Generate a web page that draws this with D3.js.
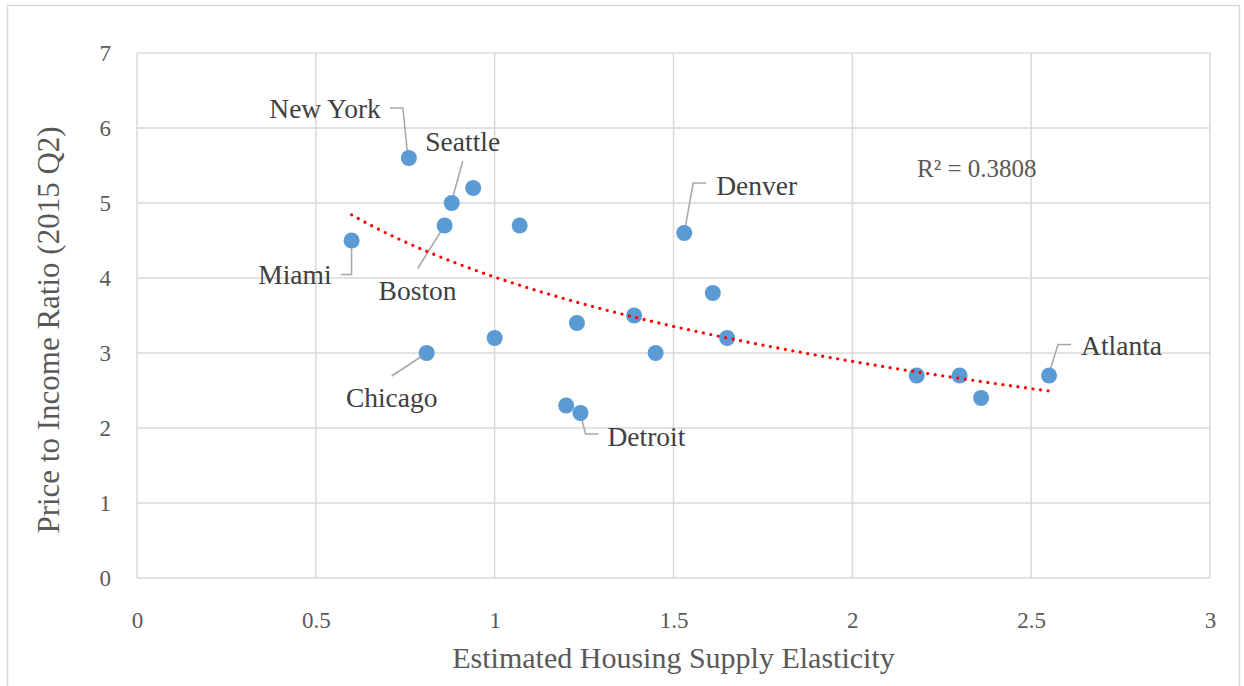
<!DOCTYPE html>
<html>
<head>
<meta charset="utf-8">
<script src="https://cdn.jsdelivr.net/npm/d3@7"></script>
<style>
  body { margin: 0; background: #fff; }
  text { font-family: "Liberation Serif", serif; }
</style>
</head>
<body>
<script>
// city data
var cities = ["Miami", "New York", "Chicago", "Boston", "Seattle", "", "", "", "", "Detroit",
  "", "", "", "Denver", "", "", "", "", "", "Atlanta"];
var elasticity = [0.6, 0.76, 0.81, 0.86, 0.88, 0.94, 1.0, 1.07, 1.2, 1.24,
  1.23, 1.39, 1.45, 1.53, 1.61, 1.65, 2.18, 2.30, 2.36, 2.55];
var priceIncome = [4.5, 5.6, 3.0, 4.7, 5.0, 5.2, 3.2, 4.7, 2.3, 2.2,
  3.4, 3.5, 3.0, 4.6, 3.8, 3.2, 2.7, 2.7, 2.4, 2.7];
var xTicks = [0, 0.5, 1, 1.5, 2, 2.5, 3];
var yTicks = [0, 1, 2, 3, 4, 5, 6, 7];
var rSquaredLabel = "R² = 0.3808";

// label placement (pixel offsets from the dot)
var labelLayout = {
  "New York": {dx: -28, dy: -50, anchor: "end", leader: [[-1, -2], [-6, -50], [-19, -50]]},
  "Seattle": {dx: 11, dy: -62, anchor: "middle", leader: [[0, -2], [11, -42]]},
  "Boston": {dx: -27, dy: 65, anchor: "middle", leader: [[0, 0], [-27, 43]]},
  "Miami": {dx: -20, dy: 34, anchor: "end", leader: [[0, 2], [0, 34], [-11, 34]]},
  "Chicago": {dx: -35, dy: 44, anchor: "middle", leader: [[0, 0], [-35, 23]]},
  "Detroit": {dx: 27, dy: 23, anchor: "start", leader: [[0, 1], [5, 21], [18, 21]]},
  "Denver": {dx: 32, dy: -48, anchor: "start", leader: [[0, 0], [9, -50], [22, -50]]},
  "Atlanta": {dx: 32, dy: -30, anchor: "start", leader: [[0, -2], [9, -31], [22, -31]]}
};

var W = 1244, H = 686;
var margin = {top: 53, right: 34, bottom: 108, left: 137};
var width = W - margin.left - margin.right,
  height = H - margin.top - margin.bottom;

var svg = d3.select("body").append("svg")
  .attr("width", W)
  .attr("height", H);

svg.append("rect")
  .attr("x", 7.5).attr("y", 5.5)
  .attr("width", 1232).attr("height", 700)
  .attr("fill", "#fff")
  .attr("stroke", "#d9d9d9")
  .attr("stroke-width", 1.5);

var g = svg.append("g")
  .attr("transform", "translate(" + margin.left + "," + margin.top + ")");

var x = d3.scaleLinear().domain([0, 3]).range([0, width]);
var y = d3.scaleLinear().domain([0, 7]).range([height, 0]);

// gridlines
g.selectAll(".vgrid")
  .data(xTicks)
  .enter().append("line")
  .attr("x1", function(d) { return x(d); })
  .attr("x2", function(d) { return x(d); })
  .attr("y1", 0).attr("y2", height)
  .attr("stroke", "#d9d9d9").attr("stroke-width", 1.5);

g.selectAll(".hgrid")
  .data(yTicks)
  .enter().append("line")
  .attr("y1", function(d) { return y(d); })
  .attr("y2", function(d) { return y(d); })
  .attr("x1", 0).attr("x2", width)
  .attr("stroke", "#d9d9d9").attr("stroke-width", 1.5);

// axes
var xAxis = g.append("g")
  .attr("transform", "translate(0," + height + ")")
  .call(d3.axisBottom(x).tickValues(xTicks).tickSize(0).tickPadding(34).tickFormat(d3.format("")));
var yAxis = g.append("g")
  .call(d3.axisLeft(y).tickValues(yTicks).tickSize(0).tickPadding(26).tickFormat(d3.format("")));

[xAxis, yAxis].forEach(function(a) {
  a.select(".domain").remove();
  a.selectAll("text")
    .attr("fill", "#595959")
    .style("font-size", "23px")
    .style("font-family", "'Liberation Serif', serif");
});

// axis titles
svg.append("text")
  .attr("x", margin.left + width / 2)
  .attr("y", 668)
  .attr("text-anchor", "middle")
  .attr("fill", "#595959")
  .style("font-size", "30px")
  .text("Estimated Housing Supply Elasticity");

svg.append("text")
  .attr("transform", "translate(59,330) rotate(-90)")
  .attr("text-anchor", "middle")
  .attr("fill", "#595959")
  .style("font-size", "31px")
  .text("Price to Income Ratio (2015 Q2)");

var data = elasticity.map(function(v, i) {
  return {name: cities[i], x: v, y: priceIncome[i]};
});

// logarithmic trendline, least squares on ln(x)
var lx = data.map(function(d) { return Math.log(d.x); });
var mx = d3.mean(lx), my = d3.mean(priceIncome);
var sxy = d3.sum(lx, function(v, i) { return (v - mx) * (priceIncome[i] - my); });
var sxx = d3.sum(lx, function(v) { return (v - mx) * (v - mx); });
var b = sxy / sxx, a = my - b * mx;
var ext = d3.extent(elasticity);
var trendX = d3.range(ext[0], ext[1] + 0.001, (ext[1] - ext[0]) / 100);

var line = d3.line()
  .x(function(d) { return x(d); })
  .y(function(d) { return y(a + b * Math.log(d)); });

// leader lines
var labelled = data.filter(function(d) { return labelLayout[d.name]; });

g.selectAll(".leader")
  .data(labelled)
  .enter().append("polyline")
  .attr("points", function(d) {
    var px = x(d.x), py = y(d.y);
    return labelLayout[d.name].leader.map(function(p) { return (px + p[0]) + "," + (py + p[1]); }).join(" ");
  })
  .attr("fill", "none")
  .attr("stroke", "#a6a6a6")
  .attr("stroke-width", 1.5);

// dots
g.selectAll(".dot")
  .data(data)
  .enter().append("circle")
  .attr("cx", function(d) { return x(d.x); })
  .attr("cy", function(d) { return y(d.y); })
  .attr("r", 8)
  .attr("fill", "#5b9bd5");

g.append("path")
  .datum(trendX)
  .attr("d", line)
  .attr("fill", "none")
  .attr("stroke", "#ff0000")
  .attr("stroke-width", 3.3)
  .attr("stroke-linecap", "round")
  .attr("stroke-dasharray", "0 7.6");

// labels
g.selectAll(".label")
  .data(labelled)
  .enter().append("text")
  .attr("x", function(d) { return x(d.x) + labelLayout[d.name].dx; })
  .attr("y", function(d) { return y(d.y) + labelLayout[d.name].dy; })
  .attr("dy", "0.35em")
  .attr("text-anchor", function(d) { return labelLayout[d.name].anchor; })
  .attr("fill", "#404040")
  .style("font-size", "27.5px")
  .text(function(d) { return d.name; });

svg.append("text")
  .attr("x", 917)
  .attr("y", 177)
  .attr("fill", "#595959")
  .style("font-size", "25px")
  .text(rSquaredLabel);
</script>
</body>
</html>
